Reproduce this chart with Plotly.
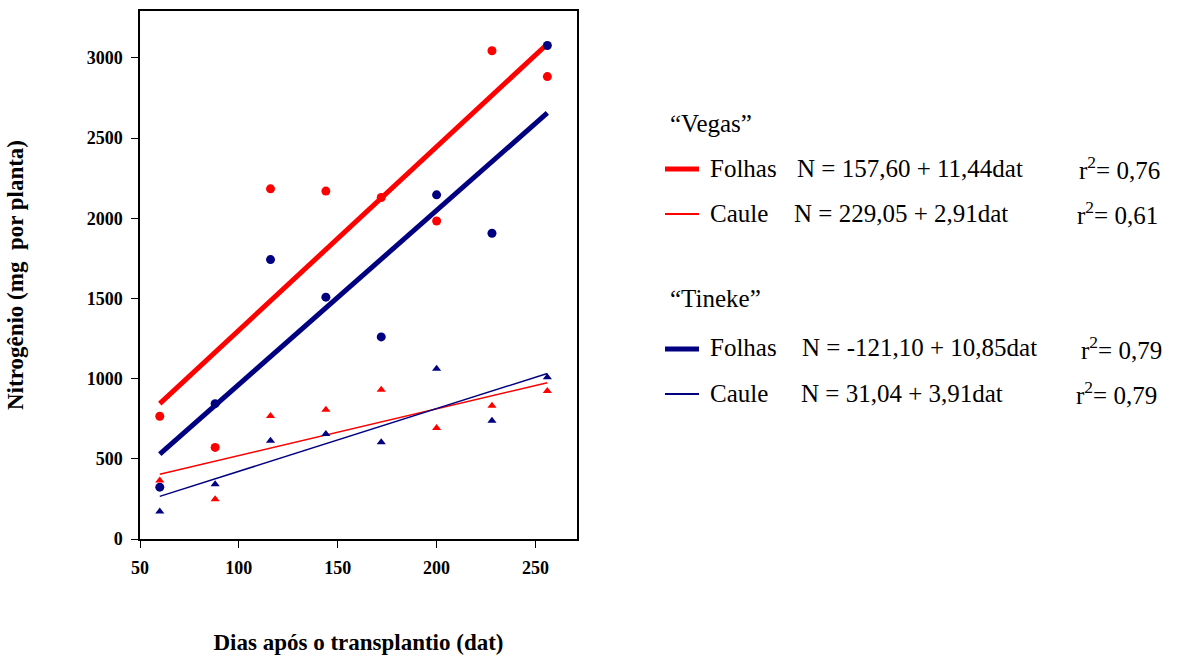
import plotly.graph_objects as go

# Days after transplanting (dat)
dat = [60, 88, 116, 144, 172, 200, 228, 256]

# Nitrogen content (mg per plant)
vegas_folhas = [765, 571, 2183, 2169, 2129, 1983, 3044, 2883]
vegas_caule = [365, 248, 767, 806, 931, 692, 831, 923]
tineke_folhas = [323, 844, 1742, 1508, 1260, 2146, 1906, 3077]
tineke_caule = [171, 342, 612, 654, 604, 1062, 737, 1008]

# Linear fits: intercept, slope, r2
fit_vegas_folhas = (157.60, 11.44, 0.76)
fit_vegas_caule = (229.05, 2.91, 0.61)
fit_tineke_folhas = (-121.10, 10.85, 0.79)
fit_tineke_caule = (31.04, 3.91, 0.79)

x_ticks = [50, 100, 150, 200, 250]
y_ticks = [0, 500, 1000, 1500, 2000, 2500, 3000]

RED = "#FF0000"
NAVY = "#000080"
SERIF = "Liberation Serif"

W, H = 1177, 657
L, R, T, B = 140, 577, 11, 539


def px(x):
    return (x - L) / (R - L)


def py(y):
    return (B - y) / (B - T)


fig = go.Figure()

series = [
    (vegas_folhas, fit_vegas_folhas, RED, "circle", 9, 5),
    (tineke_folhas, fit_tineke_folhas, NAVY, "circle", 9, 5),
    (vegas_caule, fit_vegas_caule, RED, "triangle-up", 8, 1.5),
    (tineke_caule, fit_tineke_caule, NAVY, "triangle-up", 8, 1.5),
]

for values, fit, color, symbol, msize, lw in series:
    a, b, _ = fit
    x_line = [dat[0], dat[-1]]
    fig.add_trace(go.Scatter(
        x=x_line, y=[a + b * x for x in x_line], mode="lines",
        line=dict(color=color, width=lw), showlegend=False, hoverinfo="skip"))
    fig.add_trace(go.Scatter(
        x=dat, y=values, mode="markers",
        marker=dict(color=color, symbol=symbol, size=msize, line=dict(width=0)),
        showlegend=False))

axis_common = dict(
    showgrid=False, zeroline=False, showline=True, linecolor="black",
    linewidth=1.5, mirror=True, ticks="outside", ticklen=7, tickwidth=1,
    tickcolor="black", ticklabelstandoff=5, automargin=False,
    tickfont=dict(family=SERIF, size=18, color="black", weight="bold"),
)

fig.update_xaxes(
    range=[50, 271], tickvals=x_ticks, **axis_common,
    title=dict(text="<b>Dias após o transplantio (dat)</b>",
               font=dict(family=SERIF, size=23, color="black"), standoff=57),
)
fig.update_yaxes(
    range=[0, 3292], tickvals=y_ticks, **axis_common,
    title=dict(text="<b>Nitrogênio (mg  por planta)</b>",
               font=dict(family=SERIF, size=23, color="black"), standoff=57),
)

# Legend block with regression equations
legend_font = dict(family=SERIF, size=25, color="black")
rows = [
    ("“Vegas”", None, None, None, 123, (668, 0, 0, 0)),
    ("Folhas", fit_vegas_folhas, RED, 5, 168, (708, 795, 1077)),
    ("Caule", fit_vegas_caule, RED, 2, 213, (708, 792, 1075)),
    ("“Tineke”", None, None, None, 298, (668, 0, 0, 0)),
    ("Folhas", fit_tineke_folhas, NAVY, 5, 348, (708, 800, 1079)),
    ("Caule", fit_tineke_caule, NAVY, 2, 393, (708, 799, 1074)),
]


def fmt(v):
    return f"{v:.2f}".replace(".", ",")


annotations = []
shapes = []
for label, fit, color, lw, ypix, xs in rows:
    annotations.append(dict(
        text=label, x=px(xs[0]), y=py(ypix), xref="paper", yref="paper",
        xanchor="left", yanchor="middle", showarrow=False, font=legend_font))
    if fit is None:
        continue
    a, b, r2 = fit
    eq = f"N = {fmt(a)} + {fmt(b)}dat"
    annotations.append(dict(
        text=eq, x=px(xs[1]), y=py(ypix), xref="paper", yref="paper",
        xanchor="left", yanchor="middle", showarrow=False, font=legend_font))
    annotations.append(dict(
        text=f"r<sup>2</sup>= {fmt(r2)}", x=px(xs[2]), y=py(ypix),
        xref="paper", yref="paper", xanchor="left", yanchor="middle",
        showarrow=False, font=legend_font))
    shapes.append(dict(
        type="line", xref="paper", yref="paper",
        x0=px(665), x1=px(699), y0=py(ypix + 1), y1=py(ypix + 1),
        line=dict(color=color, width=lw)))

fig.update_layout(
    width=W, height=H, autosize=False,
    margin=dict(l=L, r=W - R, t=T, b=H - B),
    paper_bgcolor="white", plot_bgcolor="white",
    annotations=annotations, shapes=shapes, showlegend=False,
)

fig.write_html("out.html")
